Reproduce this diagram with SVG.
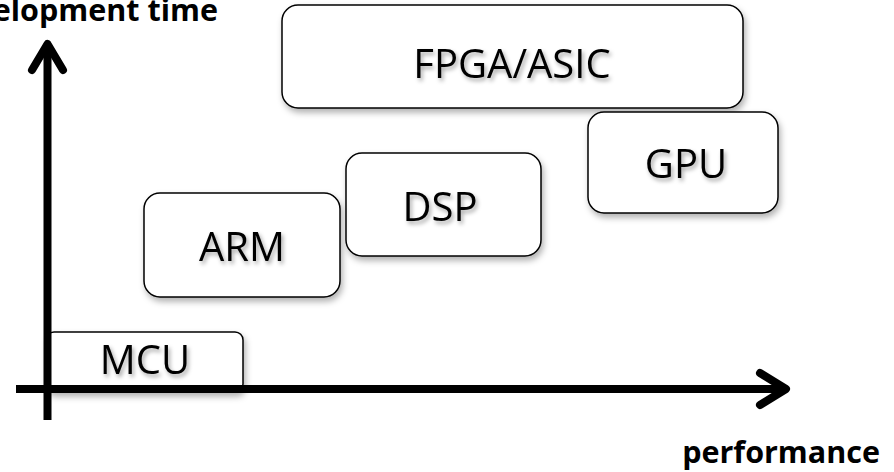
<svg xmlns="http://www.w3.org/2000/svg" width="894" height="472" viewBox="0 0 894 472">
  <defs>
    <filter id="sh" x="-20%" y="-20%" width="140%" height="150%">
      <feDropShadow dx="2" dy="4" stdDeviation="3" flood-color="#000" flood-opacity="0.3"/>
    </filter>
    <filter id="tsh" x="-20%" y="-30%" width="140%" height="160%">
      <feDropShadow dx="2" dy="3" stdDeviation="2" flood-color="#000" flood-opacity="0.35"/>
    </filter>
  </defs>
  <style>
    .box { fill: #ffffff; stroke: #000; stroke-width: 1.5; filter: url(#sh); }
    .lbl { font-family: "Open Sans", "Noto Sans", sans-serif; font-size: 40px; fill: #000; text-anchor: middle; filter: url(#tsh); }
    .axl { font-family: "Open Sans", "Noto Sans", sans-serif; font-size: 30.5px; font-weight: bold; fill: #000; }
    .ax { stroke: #000; stroke-width: 8; fill: none; stroke-linecap: round; stroke-linejoin: round; }
    .axline { stroke: #000; stroke-width: 8; fill: none; }
  </style>

  <g id="node-fpga">
    <rect class="box" x="282" y="5" width="461" height="103" rx="16"/>
    <text class="lbl" x="512" y="78" font-size="46">FPGA/ASIC</text>
  </g>
  <g id="node-gpu">
    <rect class="box" x="588" y="112" width="190" height="101" rx="16"/>
    <text class="lbl" x="686" y="178" font-size="41">GPU</text>
  </g>
  <g id="node-dsp">
    <rect class="box" x="346" y="153" width="195" height="103" rx="16"/>
    <text class="lbl" x="440" y="221">DSP</text>
  </g>
  <g id="node-arm">
    <rect class="box" x="144" y="193" width="196" height="104" rx="16"/>
    <text class="lbl" x="242" y="261" font-size="42">ARM</text>
  </g>
  <g id="node-mcu">
    <rect class="box" x="46" y="332" width="197" height="60" rx="8"/>
    <text class="lbl" x="145" y="374" font-size="36">MCU</text>
  </g>

  <g id="connectors">
    <line class="axline" x1="47.5" y1="420" x2="47.5" y2="46"/>
    <polyline class="ax" points="32,70 47.5,44 63,70"/>
    <line class="axline" x1="16" y1="389" x2="784" y2="389"/>
    <polyline class="ax" points="760,373 786,389 760,405"/>
  </g>

  <g id="labels">
    <text class="axl" x="218" y="21" text-anchor="end">development time</text>
    <text class="axl" x="880" y="463" text-anchor="end">performance</text>
  </g>
</svg>
